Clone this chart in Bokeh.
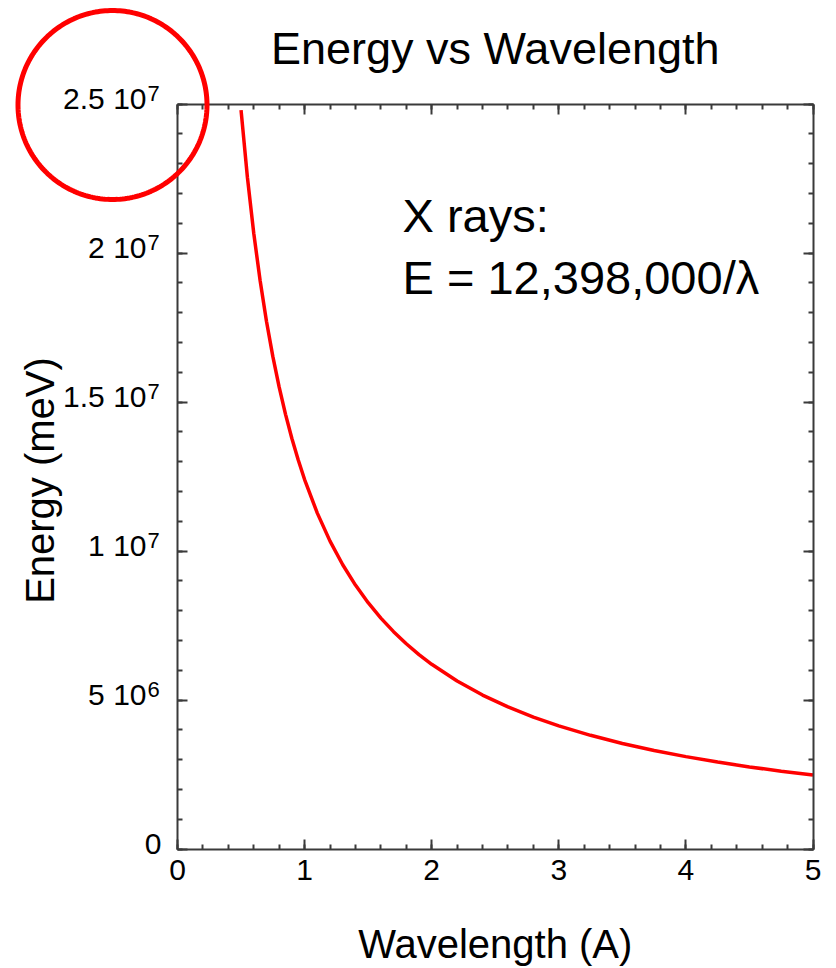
import numpy as np
from bokeh.plotting import figure
from bokeh.models import (Range1d, LinearAxis, SingleIntervalTicker, Label,
                          PolyAnnotation, CustomJSTickFormatter)
from bokeh.embed import file_html
from bokeh.resources import INLINE

# ---- data ----
wavelength = [0.50, 0.55, 0.60, 0.65, 0.70, 0.75, 0.80, 0.85, 0.90, 0.95,
              1.00, 1.10, 1.20, 1.30, 1.40, 1.50, 1.60, 1.70, 1.80, 1.90,
              2.00, 2.20, 2.40, 2.60, 2.80, 3.00, 3.25, 3.50, 3.75, 4.00,
              4.25, 4.50, 4.75, 5.00]
energy = [24.796e6, 22.542e6, 20.663e6, 19.074e6, 17.711e6, 16.531e6,
          15.498e6, 14.586e6, 13.776e6, 13.051e6, 12.398e6, 11.271e6,
          10.332e6, 9.537e6, 8.856e6, 8.265e6, 7.749e6, 7.293e6, 6.888e6,
          6.525e6, 6.199e6, 5.635e6, 5.166e6, 4.768e6, 4.428e6, 4.133e6,
          3.815e6, 3.542e6, 3.306e6, 3.100e6, 2.917e6, 2.755e6, 2.610e6,
          2.480e6]
x_min, x_max = 0, 5
y_min, y_max = 0, 2.5e7
y_tick_values = [0, 5e6, 1e7, 1.5e7, 2e7, 2.5e7]
y_tick_mantissa = ["0", "5 10", "1 10", "1.5 10", "2 10", "2.5 10"]
y_tick_exponent = ["", "6", "7", "7", "7", "7"]
title_text = "Energy vs Wavelength"
x_label = "Wavelength (A)"
y_label = "Energy (meV)"
note_lines = ["X rays:", "E = 12,398,000/\u03bb"]

# ---- layout (pixels) ----
W, H = 836, 968
BOX_L, BOX_R, BOX_T, BOX_B = 177, 812.5, 103.5, 848.5
FONT = "Liberation Sans"
AXC = "#3a3a3a"
BASE_SHIFT = 0.385   # em correction for the alphabetic anchor

ppx = (BOX_R - BOX_L) / (x_max - x_min)     # px per x unit
ppy = (BOX_B - BOX_T) / (y_max - y_min)     # px per y unit
xr = Range1d(x_min - BOX_L / ppx, x_max + (W - BOX_R) / ppx)
yr_ = Range1d(y_min - (H - BOX_B) / ppy, y_max + BOX_T / ppy)

p = figure(width=W, height=H, output_backend="svg", toolbar_location=None,
           x_range=xr, y_range=yr_, min_border=0,
           x_axis_location=None, y_axis_location=None)
p.grid.visible = False
p.outline_line_color = None
p.background_fill_color = "white"
p.border_fill_color = "white"

empty = CustomJSTickFormatter(code="return ''")

def make_axis(interval, loc, bounds, labels):
    ax = LinearAxis(fixed_location=loc, bounds=bounds)
    ax.ticker = SingleIntervalTicker(interval=interval, num_minor_ticks=5)
    ax.axis_line_color = AXC
    ax.axis_line_width = 2
    ax.major_tick_line_color = AXC
    ax.major_tick_line_width = 2
    ax.minor_tick_line_color = AXC
    ax.minor_tick_line_width = 2
    ax.major_tick_in = 10
    ax.major_tick_out = 0
    ax.minor_tick_in = 5
    ax.minor_tick_out = 0
    if labels:
        ax.major_label_text_font = FONT
        ax.major_label_text_font_size = "30px"
        ax.major_label_text_color = "black"
        ax.major_label_standoff = 11
    else:
        ax.formatter = empty
        ax.major_label_standoff = 0
    return ax

p.add_layout(make_axis(1, y_min, (x_min, x_max), True), "below")
p.add_layout(make_axis(1, y_max, (x_min, x_max), False), "above")
p.add_layout(make_axis(5e6, x_min, (y_min, y_max), False), "left")
p.add_layout(make_axis(5e6, x_max, (y_min, y_max), False), "right")

# curve
p.line(wavelength, energy, line_color="#ff0000", line_width=3.5)

def lab(x, y, text, size, xo=0, yo=0, align="left", rotated=False):
    fs = float(size)
    if rotated:
        xo -= BASE_SHIFT * fs
    else:
        yo += BASE_SHIFT * fs
    p.add_layout(Label(x=x, y=y, x_offset=xo, y_offset=yo, text=text,
                       text_align=align, text_baseline="alphabetic",
                       text_font=FONT, text_font_size=f"{size}px",
                       text_color="black",
                       angle=(np.pi / 2 if rotated else 0.0)))

# y tick labels with superscript exponents
for v, m, e in zip(y_tick_values, y_tick_mantissa, y_tick_exponent):
    if e:
        lab(x_min, v, m, 30, xo=-31, yo=-6.5, align="right")
        lab(x_min, v, e, 22, xo=-30, yo=2.5, align="left")
    else:
        lab(x_min, v, m, 30, xo=-16, yo=-7, align="right")

# title, axis titles, note
lab((x_min + x_max) / 2, y_max, title_text, 45, yo=38.5, align="center")
lab((x_min + x_max) / 2, y_min, x_label, 40, yo=-110, align="center")
lab(x_min, (y_min + y_max) / 2, y_label, 40, xo=-122, yo=-4,
    align="center", rotated=True)
for i, line in enumerate(note_lines):
    lab(x_min, y_max, line, 47, xo=225, yo=-129.5 - 62 * i)

# red highlight circle around the top-left tick label (pixel geometry)
cx_px, cy_px, r_px = 112, 104.5, 94.5
t = np.linspace(0, 2 * np.pi, 241)
circ_x = list(x_min + (cx_px + r_px * np.cos(t) - BOX_L) / ppx)
circ_y = list(y_min + (BOX_B - (cy_px + r_px * np.sin(t))) / ppy)
p.add_layout(PolyAnnotation(xs=circ_x, ys=circ_y, xs_units="data", ys_units="data",
                            fill_alpha=0, fill_color=None, line_color="#ff0000",
                            line_alpha=1.0, line_width=5))

open("out.html", "w").write(file_html(p, INLINE))
